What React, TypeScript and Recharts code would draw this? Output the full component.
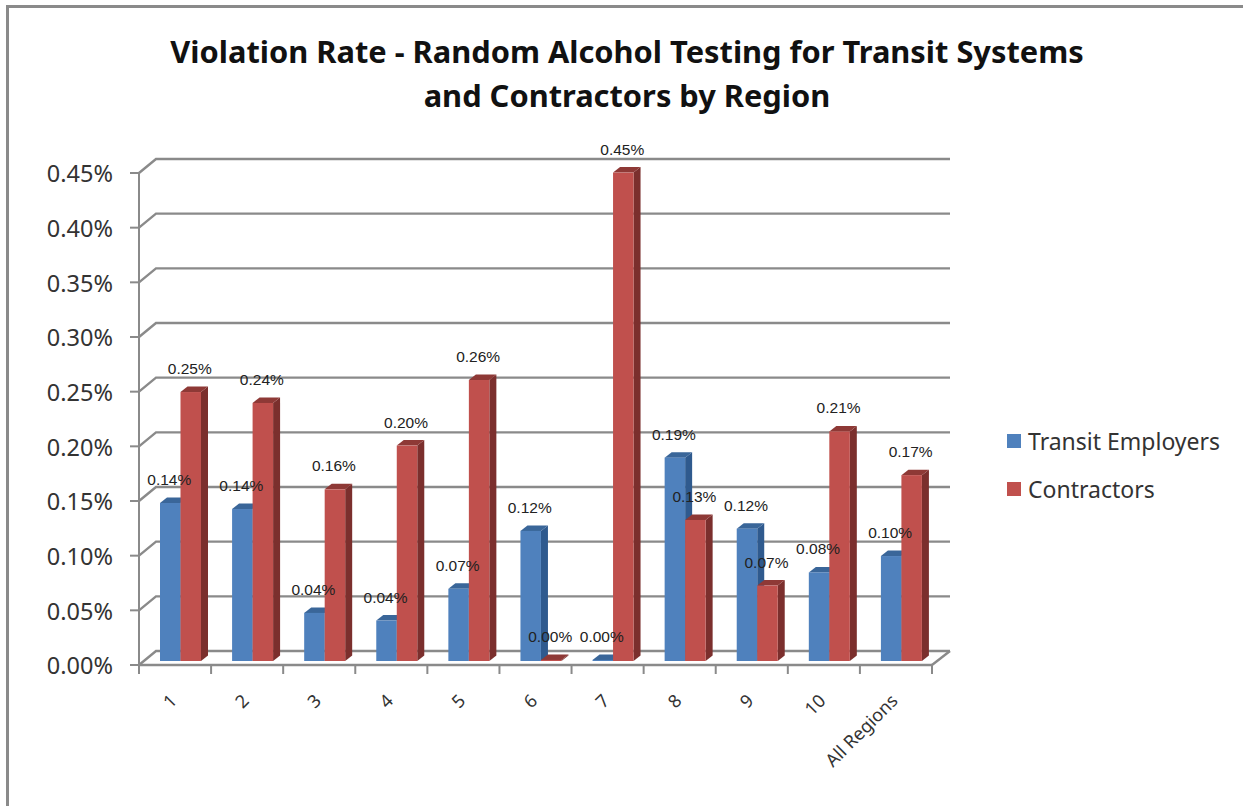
import React from "react";
import { BarChart, Bar, XAxis, YAxis, CartesianGrid, Legend, LabelList } from "recharts";

const regions = ["1", "2", "3", "4", "5", "6", "7", "8", "9", "10", "All Regions"];
const transitEmployers = [0.1445, 0.139, 0.044, 0.037, 0.066, 0.119, 0.001, 0.186, 0.121, 0.081, 0.096];
const contractors = [0.246, 0.236, 0.157, 0.197, 0.257, 0.001, 0.4467, 0.129, 0.069, 0.21, 0.17];
const yTicks = [0, 0.05, 0.1, 0.15, 0.2, 0.25, 0.3, 0.35, 0.4, 0.45];

const data = regions.map((name, i) => ({
  name,
  transit: transitEmployers[i],
  contractors: contractors[i],
}));

const GRAY = "#8a8a8a";
const FONT = '"Noto Sans", sans-serif';
const BAND = 793 / regions.length;

// fake 3D column: bars sit half way into the floor
const Column3D =
  (side: string, top: string) =>
  ({ x, y, width, height, fill }: any) => {
    const fx = x + 5;
    const fy = y - 4;
    const dx = 7;
    const dy = 5.5;
    return (
      <g>
        <path
          d={`M${fx + width},${fy} l${dx},${-dy} v${height} l${-dx},${dy} Z`}
          fill={side}
        />
        <path
          d={`M${fx},${fy} l${dx},${-dy} h${width} l${-dx},${dy} Z`}
          fill={top}
        />
        <rect x={fx} y={fy} width={width} height={height} fill={fill} />
      </g>
    );
  };

const BlueColumn = Column3D("#2f5a8e", "#3a6699");
const RedColumn = Column3D("#7b2f2d", "#8e3936");

const WallLine = ({ x1, y1, x2 }: any) => (
  <g stroke={GRAY} strokeWidth={2.4} fill="none">
    <polyline points={`${x1},${y1} ${x1 + 17},${y1 - 14} ${x2 + 18},${y1 - 14}`} />
    {y1 > 660 && <line x1={x2} y1={y1} x2={x2 + 18} y2={y1 - 14} />}
  </g>
);

// ticks go between the categories, not under them
const RegionTick = ({ x, y, payload, index }: any) => {
  const axisY = 665;
  return (
    <g>
      <line x1={x - BAND / 2} x2={x - BAND / 2} y1={axisY} y2={axisY + 9} stroke={GRAY} strokeWidth={2} />
      {index === regions.length - 1 && (
        <line x1={x + BAND / 2} x2={x + BAND / 2} y1={axisY} y2={axisY + 9} stroke={GRAY} strokeWidth={2} />
      )}
      <text
        x={x + 3}
        y={y + 27}
        transform={`rotate(-45 ${x + 3} ${y + 27})`}
        textAnchor="end"
        fontFamily={FONT}
        fontSize={18}
        fill="#333"
      >
        {payload.value}
      </text>
    </g>
  );
};

const ValueLabel = ({ x, y, width, value }: any) => (
  <text
    x={x + width / 2 + 4}
    y={y - 22}
    textAnchor="middle"
    fontFamily='"Liberation Sans", sans-serif'
    fontSize={15.5}
    fill="#222"
  >
    {value.toFixed(2)}%
  </text>
);

const LegendBox = ({ payload }: any) => (
  <div style={{ fontFamily: FONT, fontSize: 23, color: "#333" }}>
    {payload.map((item: any) => (
      <div
        key={item.value}
        style={{ display: "flex", alignItems: "center", height: 48, whiteSpace: "nowrap" }}
      >
        <span style={{ width: 14, height: 14, background: item.color, marginRight: 7 }} />
        {item.value}
      </div>
    ))}
  </div>
);

export default function App() {
  return (
    <div
      style={{
        position: "absolute",
        left: 0,
        top: 0,
        width: 1243,
        height: 806,
        overflow: "hidden",
        background: "#fff",
      }}
    >
      <div
        style={{
          position: "absolute",
          left: 6,
          top: 5,
          width: 1243,
          height: 806,
          borderLeft: `3px solid ${GRAY}`,
          borderTop: `3px solid ${GRAY}`,
        }}
      />
      <div
        style={{
          position: "absolute",
          left: 0,
          top: 29,
          width: 1254,
          textAlign: "center",
          fontFamily: FONT,
          fontWeight: 700,
          fontSize: 30.8,
          lineHeight: "44px",
          color: "#111",
        }}
      >
        Violation Rate - Random Alcohol Testing for Transit Systems
        <br />
        and Contractors by Region
      </div>
      <div style={{ position: "absolute", left: 0, top: 0 }}>
        <BarChart
          width={1243}
          height={806}
          data={data}
          barGap={0}
          barSize={20.5}
          margin={{ top: 173, right: 81, bottom: 81, left: 49 }}
        >
          <CartesianGrid vertical={false} horizontal={(p: any) => <WallLine key={p.y1} {...p} />} />
          <XAxis
            dataKey="name"
            interval={0}
            height={60}
            tick={<RegionTick />}
            tickLine={false}
            tickSize={8}
            axisLine={{ stroke: GRAY, strokeWidth: 2.4 }}
          />
          <YAxis
            width={90}
            domain={[0, 0.45]}
            ticks={yTicks}
            tickFormatter={(v: number) => `${v.toFixed(2)}%`}
            tickSize={9}
            tickMargin={17}
            axisLine={{ stroke: GRAY, strokeWidth: 2 }}
            tickLine={{ stroke: GRAY, strokeWidth: 2 }}
            tick={{ fill: "#333", fontSize: 23.5, fontFamily: FONT, dy: 1 }}
          />
          <Legend
            layout="vertical"
            align="right"
            verticalAlign="top"
            itemSorter={null as any}
            content={<LegendBox />}
            wrapperStyle={{ position: "absolute", left: 1007, top: 417, width: 230 }}
          />
          <Bar
            dataKey="transit"
            name="Transit Employers"
            fill="#4f81bd"
            shape={BlueColumn}
            isAnimationActive={false}
          >
            <LabelList dataKey="transit" content={<ValueLabel />} />
          </Bar>
          <Bar
            dataKey="contractors"
            name="Contractors"
            fill="#c0504d"
            shape={RedColumn}
            isAnimationActive={false}
          >
            <LabelList dataKey="contractors" content={<ValueLabel />} />
          </Bar>
        </BarChart>
      </div>
    </div>
  );
}
